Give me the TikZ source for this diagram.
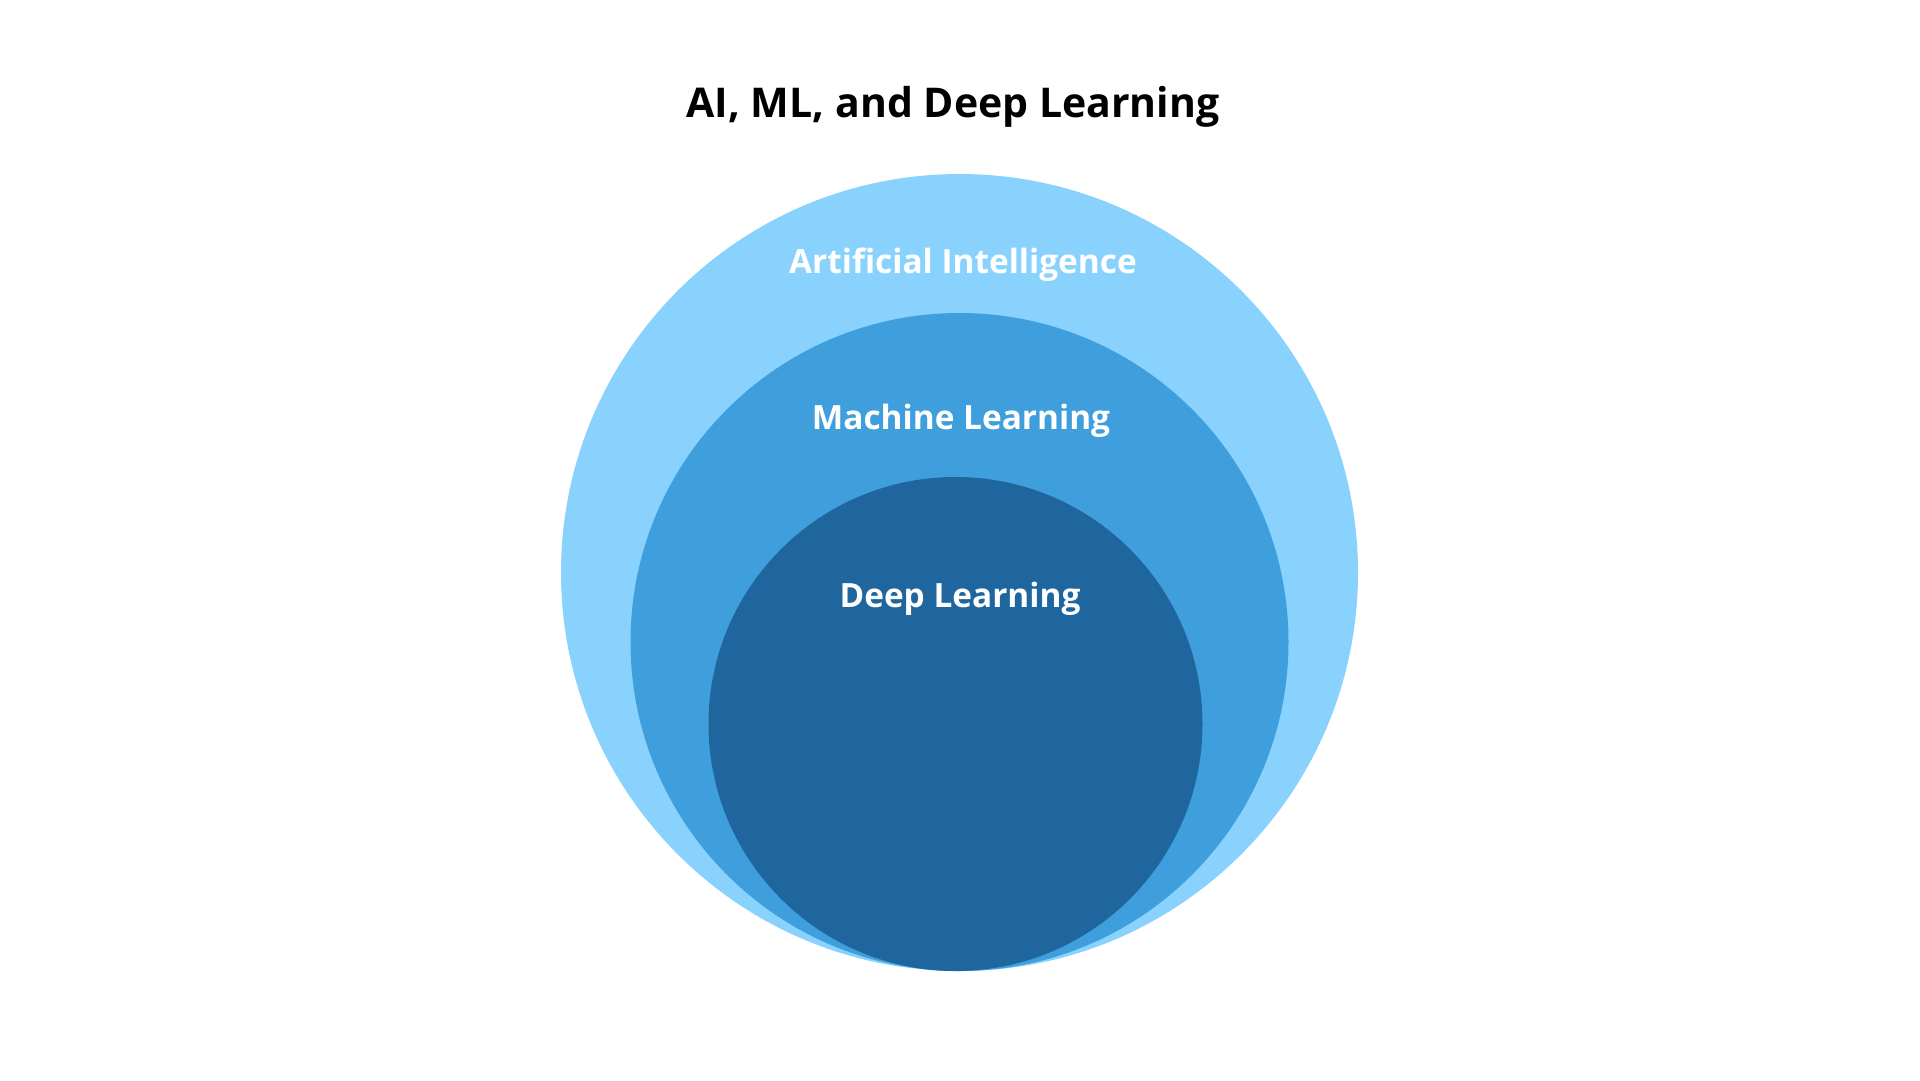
\documentclass[tikz,border=0pt]{standalone}
\usepackage{fontspec}
\setmainfont{Open Sans}
\definecolor{aiblue}{HTML}{8AD2FE}
\definecolor{mlblue}{HTML}{3E9FDC}
\definecolor{dlblue}{HTML}{1F659E}
\begin{document}
\begin{tikzpicture}[x=1pt,y=-1pt,
  lbl/.style={text=white,font=\fontsize{33.4}{40}\selectfont\bfseries,anchor=base,inner sep=0pt},
  ttl/.style={text=black,font=\fontsize{41}{50}\selectfont\bfseries,anchor=base,inner sep=0pt}]
\useasboundingbox (0,0) rectangle (1920,1080);
\fill[white] (0,0) rectangle (1920,1080);
\fill[aiblue] (959.5,572.5) circle (398.5pt);
\fill[mlblue] (959.5,642) circle (329pt);
\fill[dlblue] (955.5,724) circle (247pt);
\node[ttl] (title) at (953,117) {AI, ML, and Deep Learning};
\node[lbl] (ai) at (963,273) {Artificial Intelligence};
\node[lbl] (ml) at (961,429) {Machine Learning};
\node[lbl] (dl) at (960,607) {Deep Learning};
\end{tikzpicture}
\end{document}
